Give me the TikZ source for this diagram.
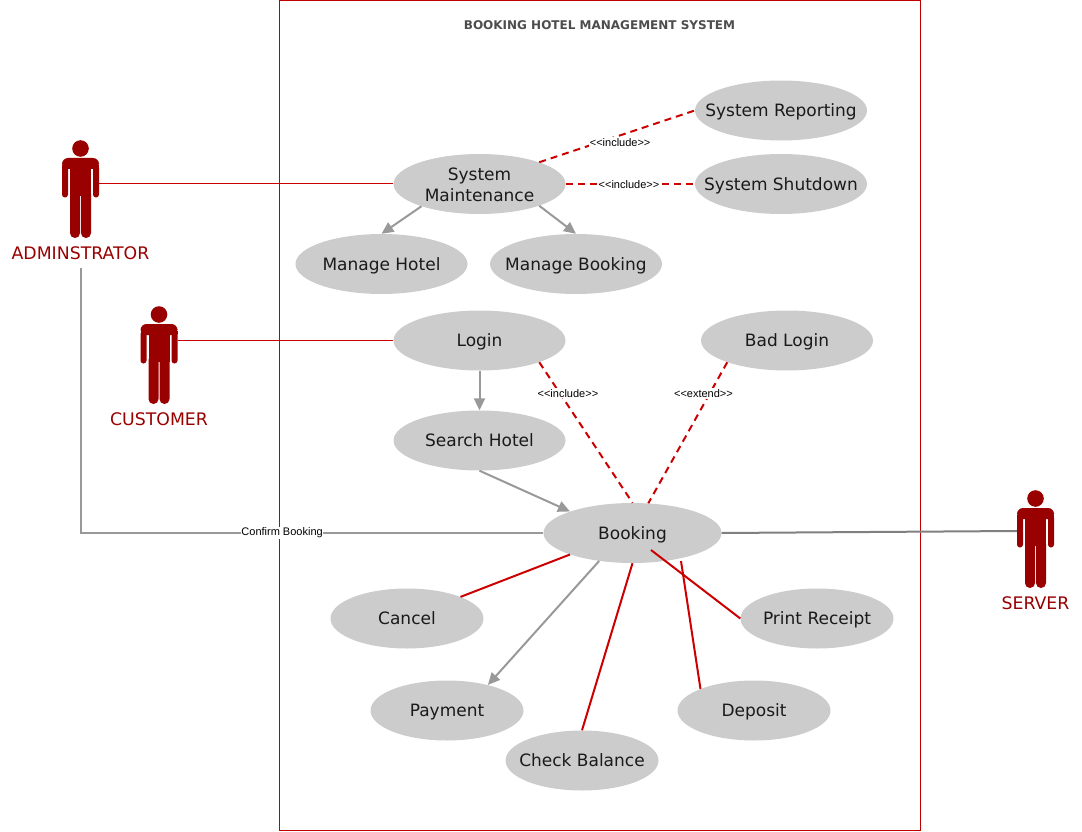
\documentclass[tikz,border=0pt]{standalone}
\usepackage{fontspec}
\setmainfont{DejaVu Sans}
\newfontfamily\labelfont{Liberation Sans}
\usetikzlibrary{shapes.geometric,arrows.meta}
\definecolor{bordred}{HTML}{C00000}
\definecolor{linered}{HTML}{CC0000}
\definecolor{actred}{HTML}{990000}
\definecolor{ellgray}{HTML}{CCCCCC}
\definecolor{linegray}{HTML}{999999}
\definecolor{srvgray}{HTML}{808080}
\definecolor{titlegray}{HTML}{4D4D4D}
\definecolor{ink}{HTML}{1A1A1A}
\tikzset{
  ucase/.style={ellipse,fill=ellgray,inner xsep=-50pt,inner ysep=-10pt,minimum height=60pt,minimum width=172pt,text=ink,align=center,text height=15pt,text depth=3pt,font=\fontsize{17}{21}\selectfont},
  ucsmall/.style={ucase,minimum width=153pt},
  actorbox/.style={rectangle,minimum width=37pt,minimum height=98pt,inner sep=0pt},
  actorname/.style={text=actred,inner sep=0pt,font=\fontsize{17.3}{20}\selectfont},
  thinred/.style={draw=linered,line width=1pt},
  solidred/.style={draw=linered,line width=2pt},
  dashred/.style={draw=linered,line width=2pt,dash pattern=on 7pt off 5pt},
  grayarrow/.style={draw=linegray,line width=2pt,-{Triangle[length=12pt,width=11pt]}},
  grayline/.style={draw=linegray,line width=2pt},
  stereo/.style={fill=white,inner sep=1pt,text=black,font=\labelfont\fontsize{11}{13}\selectfont},
  pics/actorfig/.style={code={
    \fill[actred] (0,-40.5) circle (8.3);
    \fill[actred,rounded corners=6pt] (-18.5,-20) -- (-18.5,-31) -- (18.5,-31) -- (18.5,-20) -- cycle;
    \fill[actred] (-18.5,-24) rectangle (18.5,-21);
    \fill[actred] (-10.5,-30) rectangle (10.5,7);
    \fill[actred,rounded corners=2.9pt] (-18.5,-24) rectangle (-12.5,8.5);
    \fill[actred,rounded corners=2.9pt] (12.5,-24) rectangle (18.5,8.5);
    \fill[actred,rounded corners=4.9pt] (-10.5,0) rectangle (-0.5,49);
    \fill[actred,rounded corners=4.9pt] (0.5,0) rectangle (10.5,49);
    \fill[actred] (-10.5,-5) rectangle (10.5,7);
  }}
}
\begin{document}
\begin{tikzpicture}[x=1pt,y=-1pt]
\useasboundingbox (0,0) rectangle (1082,832);
\node[draw=bordred,line width=1pt,minimum width=641pt,minimum height=830pt,inner sep=0pt] (frame) at (600,415.5) {};
\node[inner sep=0pt,text=titlegray,font=\bfseries\fontsize{12}{14}\selectfont] (title) at (599.5,25) {BOOKING HOTEL MANAGEMENT SYSTEM};

\node[ucase,text height=37pt] (sm) at (479.5,184) {System\\Maintenance};
\node[ucase] (rep) at (781,110.5) {System Reporting};
\node[ucase] (shut) at (781,184) {System Shutdown};
\node[ucase] (mh) at (381.5,264) {Manage Hotel};
\node[ucase] (mb) at (576,264) {Manage Booking};
\node[ucase] (login) at (479.5,340.5) {Login};
\node[ucase] (bad) at (787,340.5) {Bad Login};
\node[ucase] (search) at (479.5,440.5) {Search Hotel};
\node[ucase,minimum width=178pt] (book) at (632.5,533) {Booking};
\node[ucsmall] (cancel) at (407,618.5) {Cancel};
\node[ucsmall] (print) at (817,618.5) {Print Receipt};
\node[ucsmall] (pay) at (447,710.5) {Payment};
\node[ucsmall] (dep) at (754,710.5) {Deposit};
\node[ucsmall] (check) at (582,760.5) {Check Balance};

\node[actorbox] (adm) at (80.5,189) {};
\node[actorbox] (cust) at (159,355) {};
\node[actorbox] (srv) at (1035.5,539) {};
\pic at (adm.center) {actorfig};
\pic at (cust.center) {actorfig};
\pic at (srv.center) {actorfig};
\node[actorname] (admname) at (80.5,253) {ADMINSTRATOR};
\node[actorname] (custname) at (159,419) {CUSTOMER};
\node[actorname] (srvname) at (1035.5,603) {SERVER};

\coordinate (bookport) at (651,550);
\coordinate (bookdep) at (681,561);
\coordinate (admport) at (81,268);

\draw[thinred] (adm.east |- sm.west) -- (sm.west);
\draw[thinred] (cust.east |- login.west) -- (login.west);
\draw[dashred] (sm.20) -- node[stereo,pos=0.52,yshift=-7pt] {<<include>>} (rep.west);
\draw[dashred] (sm.east) -- node[stereo,pos=0.49,yshift=-1pt] {<<include>>} (shut.west);
\draw[grayarrow] (sm.201) -- (mh.north);
\draw[grayarrow] (sm.-20) -- (mb.north);
\draw[grayarrow] (login.south) -- (search.north);
\draw[grayarrow] (search.south) -- (book.161);
\draw[dashred] (login.-20) -- node[stereo,pos=0.2,xshift=10pt,yshift=-3pt] {<<include>>} (book.north);
\draw[dashred] (bad.200) -- node[stereo,pos=0.2,xshift=-8pt,yshift=-3pt] {<<extend>>} (book.62);
\draw[solidred] (book.199) -- (cancel.22);
\draw[grayarrow] (book.220) -- (pay.32);
\draw[solidred] (book.south) -- (check.north);
\draw[solidred] (bookdep) -- (dep.158);
\draw[solidred] (bookport) -- (print.west);
\draw[draw=srvgray,line width=2pt] (book.east) -- ([yshift=8pt]srv.west);
\draw[grayline] (admport) |- node[stereo,pos=0.7175,fill=white,inner sep=0.5pt] {Confirm Booking} (book.west);
\end{tikzpicture}
\end{document}
